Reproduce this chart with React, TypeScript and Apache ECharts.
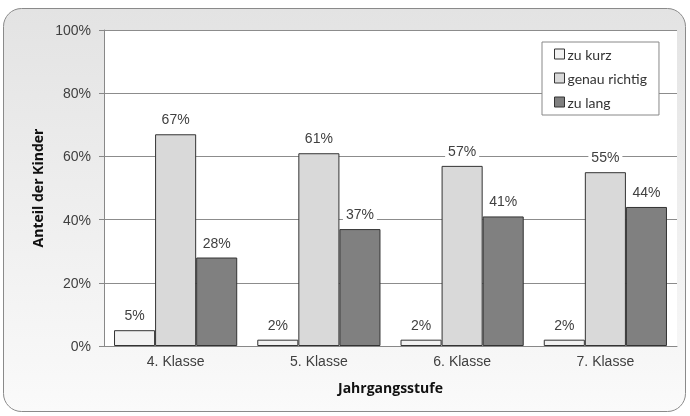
import React, { useEffect, useRef } from "react";
import * as echarts from "echarts";

const categories = ["4. Klasse", "5. Klasse", "6. Klasse", "7. Klasse"];
const zuKurz = [5, 2, 2, 2];
const genauRichtig = [67, 61, 57, 55];
const zuLang = [28, 37, 41, 44];
const seriesNames = ["zu kurz", "genau richtig", "zu lang"];
const seriesColors = ["#f2f2f2", "#d9d9d9", "#808080"];

export default function App() {
  const ref = useRef<HTMLDivElement>(null);
  useEffect(() => {
    if (!ref.current) return;
    const chart = echarts.init(ref.current, null, { renderer: "svg" });
    const dataSets = [zuKurz, genauRichtig, zuLang];
    const labelFont = { fontFamily: "Liberation Sans", fontSize: 14, color: "#404040" };
    chart.setOption({
      animation: false,
      graphic: [
        {
          type: "rect",
          shape: { x: 3.5, y: 8.5, width: 682, height: 403, r: 18 },
          style: {
            fill: new echarts.graphic.LinearGradient(0, 0, 0, 1, [
              { offset: 0, color: "#e3e3e3" },
              { offset: 1, color: "#fafafa" },
            ]),
            stroke: "#8a8a8a",
            lineWidth: 1,
          },
          z: -10,
        },
        {
          type: "rect",
          shape: { x: 104, y: 30, width: 573, height: 316 },
          style: { fill: "#ffffff" },
          z: -9,
        },
      ],
      grid: { left: 104, top: 30, right: 13, bottom: 70 },
      legend: {
        orient: "vertical",
        left: 542,
        top: 42,
        backgroundColor: "#ffffff",
        borderColor: "#888888",
        borderWidth: 1,
        padding: [5, 12, 6, 12],
        itemWidth: 10,
        itemHeight: 10,
        itemGap: 10,
        icon: "rect",
        textStyle: { fontFamily: "Lato", fontSize: 14, color: "#333", padding: [0, 0, 0, -2] },
        itemStyle: { borderColor: "#333", borderWidth: 1 },
        data: seriesNames,
      },
      xAxis: {
        type: "category",
        data: categories,
        name: "Jahrgangsstufe",
        nameLocation: "middle",
        nameGap: 34,
        nameTextStyle: { fontFamily: "Open Sans", fontWeight: "bold", fontSize: 14, color: "#111" },
        axisTick: { show: false },
        axisLine: { lineStyle: { color: "#888" } },
        axisLabel: { ...labelFont, margin: 8 },
      },
      yAxis: {
        type: "value",
        min: 0,
        max: 100,
        interval: 20,
        name: "Anteil der Kinder",
        nameLocation: "middle",
        nameGap: 58,
        nameTextStyle: { fontFamily: "Open Sans", fontWeight: "bold", fontSize: 14, color: "#111" },
        axisLine: { show: true, lineStyle: { color: "#888" } },
        axisTick: { show: true, length: 5, lineStyle: { color: "#888" } },
        axisLabel: { ...labelFont, margin: 13, formatter: "{value}%" },
        splitLine: { lineStyle: { color: "#8c8c8c" } },
      },
      series: seriesNames.map((name, i) => ({
        name,
        type: "bar",
        data: dataSets[i],
        barGap: "0%",
        barCategoryGap: "14%",
        itemStyle: { color: seriesColors[i], borderColor: "#333", borderWidth: 1 },
        label: {
          show: true,
          position: "top",
          distance: 7,
          formatter: "{c}%",
          backgroundColor: "#ffffff",
          padding: [1, 3],
          ...labelFont,
        },
      })),
    });
    return () => chart.dispose();
  }, []);
  return (
    <div
      ref={ref}
      style={{ position: "fixed", left: 0, top: 0, width: 690, height: 416 }}
    />
  );
}
